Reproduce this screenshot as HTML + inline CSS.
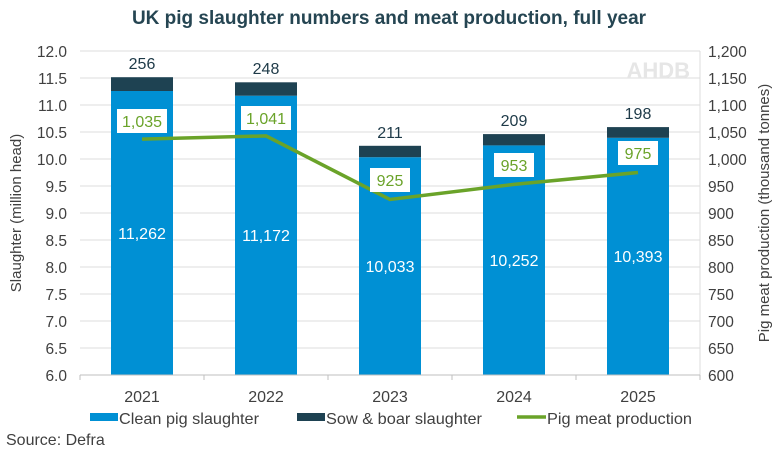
<!DOCTYPE html>
<html><head><meta charset="utf-8"><style>
body{margin:0;background:#fff;}
svg{display:block;font-family:"Liberation Sans",sans-serif;}
</style></head><body>
<svg width="778" height="450" viewBox="0 0 778 450">
<text x="389" y="24" text-anchor="middle" font-size="19" font-weight="bold" fill="#254552">UK pig slaughter numbers and meat production, full year</text>
<g stroke="#dcdcdc" stroke-width="1">
<line x1="80" x2="700" y1="51" y2="51"/><line x1="80" x2="700" y1="78" y2="78"/><line x1="80" x2="700" y1="105" y2="105"/><line x1="80" x2="700" y1="132" y2="132"/><line x1="80" x2="700" y1="159" y2="159"/><line x1="80" x2="700" y1="186" y2="186"/><line x1="80" x2="700" y1="213" y2="213"/><line x1="80" x2="700" y1="240" y2="240"/><line x1="80" x2="700" y1="267" y2="267"/><line x1="80" x2="700" y1="294" y2="294"/><line x1="80" x2="700" y1="321" y2="321"/><line x1="80" x2="700" y1="348" y2="348"/>
<line x1="700" x2="700" y1="51" y2="375"/>
</g>
<text x="690" y="78" text-anchor="end" font-size="22" font-weight="bold" fill="#e6e6e6">AHDB</text>
<g font-size="15.5" fill="#404040" text-anchor="end">
<text x="67" y="57">12.0</text><text x="67" y="84">11.5</text><text x="67" y="111">11.0</text><text x="67" y="138">10.5</text><text x="67" y="165">10.0</text><text x="67" y="192">9.5</text><text x="67" y="219">9.0</text><text x="67" y="246">8.5</text><text x="67" y="273">8.0</text><text x="67" y="300">7.5</text><text x="67" y="327">7.0</text><text x="67" y="354">6.5</text><text x="67" y="381">6.0</text>
</g>
<g font-size="15.5" fill="#404040">
<text x="708" y="57">1,200</text><text x="708" y="84">1,150</text><text x="708" y="111">1,100</text><text x="708" y="138">1,050</text><text x="708" y="165">1,000</text><text x="708" y="192">950</text><text x="708" y="219">900</text><text x="708" y="246">850</text><text x="708" y="273">800</text><text x="708" y="300">750</text><text x="708" y="327">700</text><text x="708" y="354">650</text><text x="708" y="381">600</text>
</g>
<text transform="translate(21,213) rotate(-90)" text-anchor="middle" font-size="15" fill="#404040">Slaughter (million head)</text>
<text transform="translate(769,213) rotate(-90)" text-anchor="middle" font-size="15" fill="#404040">Pig meat production (thousand tonnes)</text>
<g fill="#0090d4">
<rect x="111" y="91" width="62" height="284"/><rect x="235" y="95.7" width="62" height="279.3"/><rect x="359" y="157.2" width="62" height="217.8"/><rect x="483" y="145.4" width="62" height="229.6"/><rect x="607" y="137.8" width="62" height="237.2"/>
</g>
<g fill="#1e4252">
<rect x="111" y="77.2" width="62" height="13.8"/><rect x="235" y="82.3" width="62" height="13.4"/><rect x="359" y="145.8" width="62" height="11.4"/><rect x="483" y="134.1" width="62" height="11.3"/><rect x="607" y="127.1" width="62" height="10.7"/>
</g>
<line x1="80" x2="700" y1="375" y2="375" stroke="#bfbfbf"/>
<g stroke="#bfbfbf"><line x1="80" x2="80" y1="375" y2="380"/><line x1="204" x2="204" y1="375" y2="380"/><line x1="328" x2="328" y1="375" y2="380"/><line x1="452" x2="452" y1="375" y2="380"/><line x1="576" x2="576" y1="375" y2="380"/><line x1="700" x2="700" y1="375" y2="380"/></g>
<g font-size="16" fill="#fff" text-anchor="middle">
<text x="142" y="239">11,262</text><text x="266" y="241">11,172</text><text x="390" y="272">10,033</text><text x="514" y="266">10,252</text><text x="638" y="262">10,393</text>
</g>
<g font-size="16" fill="#1e3a48" text-anchor="middle">
<text x="142" y="69">256</text><text x="266" y="74">248</text><text x="390" y="138">211</text><text x="514" y="126">209</text><text x="638" y="119">198</text>
</g>
<polyline points="142,139.1 266,135.9 390,199.5 514,184.4 638,172.5" fill="none" stroke="#6aa329" stroke-width="3.5"/>
<g fill="#fff"><rect x="117" y="109" width="50" height="24"/><rect x="241" y="106" width="50" height="24"/><rect x="370" y="168" width="40" height="24"/><rect x="494" y="153" width="40" height="24"/><rect x="618" y="141" width="40" height="24"/></g>
<g font-size="16" fill="#6aa329" text-anchor="middle">
<text x="142" y="127">1,035</text><text x="266" y="124">1,041</text><text x="390" y="186">925</text><text x="514" y="171">953</text><text x="638" y="159">975</text>
</g>
<g font-size="16" fill="#404040">
<text x="142" y="402" text-anchor="middle">2021</text><text x="266" y="402" text-anchor="middle">2022</text><text x="390" y="402" text-anchor="middle">2023</text><text x="514" y="402" text-anchor="middle">2024</text><text x="638" y="402" text-anchor="middle">2025</text>
<rect x="90" y="413" width="28" height="8" fill="#0090d4"/><text x="119" y="424" textLength="140" lengthAdjust="spacingAndGlyphs">Clean pig slaughter</text>
<rect x="297" y="413" width="28" height="8" fill="#1e4252"/><text x="326" y="424" textLength="156" lengthAdjust="spacingAndGlyphs">Sow &amp; boar slaughter</text>
<line x1="517" x2="546" y1="417" y2="417" stroke="#6aa329" stroke-width="3.5"/><text x="547" y="424" textLength="145" lengthAdjust="spacingAndGlyphs">Pig meat production</text>
<text x="6" y="445">Source: Defra</text>
</g>
</svg>
</body></html>
